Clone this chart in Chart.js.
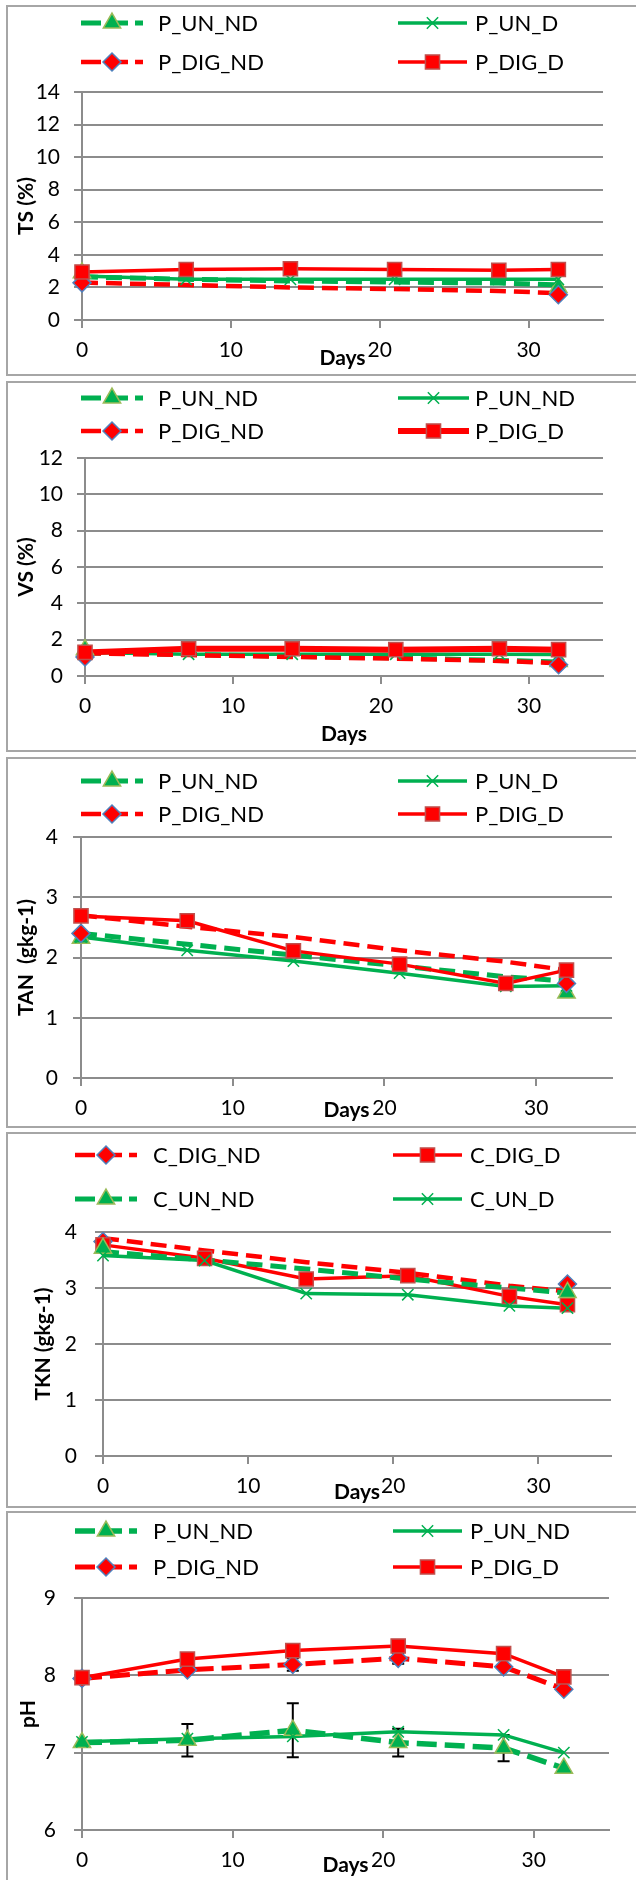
<!DOCTYPE html>
<html>
<head>
<meta charset="utf-8">
<script src="https://cdn.jsdelivr.net/npm/chart.js@4.4.1/dist/chart.umd.min.js"></script>
<style>
html,body{margin:0;padding:0;background:#fff;}
body{width:636px;height:1880px;position:relative;overflow:hidden;}
.panel{position:absolute;left:6px;width:640px;border:2px solid #a6a6a6;box-sizing:border-box;background:#fff;}
canvas{position:absolute;left:0;}
</style>
</head>
<body>
<div class="panel" style="top:5px;height:371px"></div>
<div class="panel" style="top:381px;height:371px"></div>
<div class="panel" style="top:757px;height:371px"></div>
<div class="panel" style="top:1132px;height:376px"></div>
<div class="panel" style="top:1511px;height:372px"></div>
<canvas id="c1"></canvas>
<canvas id="c2"></canvas>
<canvas id="c3"></canvas>
<canvas id="c4"></canvas>
<canvas id="c5"></canvas>
<script>
// ---------------- DATA ----------------
const days = [0, 7, 14, 21, 28, 32];
const xTickValues = [0, 10, 20, 30];

// Panel 1: TS (%)
const tsLabels = ['P_UN_ND', 'P_UN_D', 'P_DIG_ND', 'P_DIG_D'];
const tsYTicks = [0, 2, 4, 6, 8, 10, 12, 14];
const tsUnNd = [2.65, 2.5, 2.4, 2.33, 2.27, 2.15];
const tsUnNdMarks = [2.9, null, null, null, null, 2.0];
const tsUnD = [2.7, 2.5, 2.5, 2.5, 2.5, 2.5];
const tsDigNd = [2.3, 2.15, 2.0, 1.9, 1.78, 1.65];
const tsDigNdMarks = [2.28, null, null, null, null, 1.55];
const tsDigD = [2.95, 3.1, 3.15, 3.1, 3.05, 3.1];

// Panel 2: VS (%)
const vsLabels = ['P_UN_ND', 'P_UN_ND', 'P_DIG_ND', 'P_DIG_D'];
const vsYTicks = [0, 2, 4, 6, 8, 10, 12];
const vsUnNd = [1.27, 1.19, 1.08, 1.0, 0.86, 0.77];
const vsUnNdMarks = [1.45, null, null, null, null, 0.8];
const vsUnD = [1.3, 1.2, 1.2, 1.2, 1.2, 1.18];
const vsDigNd = [1.25, 1.15, 1.05, 0.95, 0.83, 0.7];
const vsDigNdMarks = [1.05, null, null, null, null, 0.62];
const vsDigD = [1.3, 1.5, 1.5, 1.45, 1.5, 1.45];

// Panel 3: TAN (gkg-1)
const tanLabels = ['P_UN_ND', 'P_UN_D', 'P_DIG_ND', 'P_DIG_D'];
const tanYTicks = [0, 1, 2, 3, 4];
const tanUnNd = [2.4, 2.22, 2.04, 1.86, 1.68, 1.61];
const tanUnNdMarks = [2.32, null, null, null, null, 1.41];
const tanUnD = [2.34, 2.12, 1.94, 1.74, 1.52, 1.53];
const tanDigNd = [2.7, 2.51, 2.34, 2.12, 1.93, 1.79];
const tanDigNdMarks = [2.4, null, null, null, null, 1.57];
const tanDigD = [2.69, 2.61, 2.11, 1.89, 1.57, 1.79];

// Panel 4: TKN (gkg-1)
const tknLabels = ['C_DIG_ND', 'C_DIG_D', 'C_UN_ND', 'C_UN_D'];
const tknYTicks = [0, 1, 2, 3, 4];
const tknDigNd = [3.89, 3.67, 3.46, 3.27, 3.04, 2.94];
const tknDigNdMarks = [3.83, null, null, null, null, 3.07];
const tknDigD = [3.77, 3.53, 3.16, 3.22, 2.85, 2.7];
const tknUnNd = [3.65, 3.5, 3.34, 3.16, 3.0, 2.91];
const tknUnNdMarks = [3.71, null, null, null, null, 2.92];
const tknUnD = [3.58, 3.49, 2.9, 2.88, 2.68, 2.64];

// Panel 5: pH
const phLabels = ['P_UN_ND', 'P_UN_ND', 'P_DIG_ND', 'P_DIG_D'];
const phYTicks = [6, 7, 8, 9];
const phUnNd = [7.13, 7.16, 7.29, 7.13, 7.06, 6.80];
const phUnNdErr = [0, 0.21, 0.35, 0.18, 0.17, 0];
const phUnD = [7.14, 7.18, 7.21, 7.27, 7.23, 7.0];
const phDigNd = [7.96, 8.07, 8.14, 8.22, 8.11, 7.82];
const phDigNdErr = [0, 0, 0.08, 0.07, 0, 0];
const phDigD = [7.97, 8.21, 8.32, 8.38, 8.28, 7.98];

// ---------------- STYLE ----------------
const GREEN = '#00B050', RED = '#FF0000', GRID = '#8c8c8c';
const STYLES = {
  unNd:  {color: GREEN, dash: [16, 8], width: 5, marker: 'triangle', fill: GREEN, stroke: '#9BBB59', r: 10, bw: 1.5},
  unD:   {color: GREEN, dash: [], width: 3.5, marker: 'crossRot', fill: GREEN, stroke: GREEN, r: 8, bw: 1.5},
  digNd: {color: RED, dash: [16, 8], width: 4.5, marker: 'rectRot', fill: RED, stroke: '#4F81BD', r: 9, bw: 1.5},
  digD:  {color: RED, dash: [], width: 3.5, marker: 'rect', fill: RED, stroke: '#C0504D', r: 10, bw: 1.5}
};
const TICK_FONT = 21, LEGEND_FONT = 22, TITLE_FONT = 21;
Chart.defaults.font.family = 'Lato';

const panels = [
  {id: 'c1', top0: 5, H: 371, L: 82, R: 603, T: 92, B: 320, legendY: [23, 62], cols: [[81, 143, 158], [398, 467, 475]],
   yTitle: 'TS (%)', yTitleX: 26, daysDy: 38, yTickPad: 14, yTicks: tsYTicks,
   series: [
     {label: tsLabels[0], style: 'unNd', line: tsUnNd, marks: tsUnNdMarks},
     {label: tsLabels[1], style: 'unD', line: tsUnD},
     {label: tsLabels[2], style: 'digNd', line: tsDigNd, marks: tsDigNdMarks},
     {label: tsLabels[3], style: 'digD', line: tsDigD}]},
  {id: 'c2', top0: 381, H: 371, L: 85, R: 603, T: 458, B: 676, legendY: [398, 431], cols: [[81, 143, 158], [398, 469, 475]],
   yTitle: 'VS (%)', yTitleX: 26, daysDy: 58, yTickPad: 14, yTicks: vsYTicks, widths: {digD: 6},
   series: [
     {label: vsLabels[0], style: 'unNd', line: vsUnNd, marks: vsUnNdMarks},
     {label: vsLabels[1], style: 'unD', line: vsUnD},
     {label: vsLabels[2], style: 'digNd', line: vsDigNd, marks: vsDigNdMarks},
     {label: vsLabels[3], style: 'digD', line: vsDigD}]},
  {id: 'c3', top0: 757, H: 371, L: 81, R: 612, T: 837, B: 1078, legendY: [781, 814], cols: [[81, 143, 158], [398, 467, 475]],
   yTitle: 'TAN  (gkg-1)', yTitleX: 26, daysDy: 32, yTickPad: 15, yTicks: tanYTicks,
   series: [
     {label: tanLabels[0], style: 'unNd', line: tanUnNd, marks: tanUnNdMarks},
     {label: tanLabels[1], style: 'unD', line: tanUnD},
     {label: tanLabels[2], style: 'digNd', line: tanDigNd, marks: tanDigNdMarks},
     {label: tanLabels[3], style: 'digD', line: tanDigD}]},
  {id: 'c4', top0: 1132, H: 376, L: 103, R: 611, T: 1232, B: 1456, legendY: [1155, 1199], cols: [[75, 137, 153], [393, 462, 470]],
   yTitle: 'TKN (gkg-1)', yTitleX: 43, daysDy: 36, yTickPad: 18, yTicks: tknYTicks,
   series: [
     {label: tknLabels[0], style: 'digNd', line: tknDigNd, marks: tknDigNdMarks},
     {label: tknLabels[1], style: 'digD', line: tknDigD},
     {label: tknLabels[2], style: 'unNd', line: tknUnNd, marks: tknUnNdMarks},
     {label: tknLabels[3], style: 'unD', line: tknUnD}]},
  {id: 'c5', top0: 1511, H: 369, L: 82, R: 609, T: 1598, B: 1830, legendY: [1531, 1567], cols: [[75, 137, 153], [393, 462, 470]],
   yTitle: 'pH', yTitleX: 28, daysDy: 35, yTickPad: 18, yTicks: phYTicks, dash: [20, 8], widths: {unNd: 5.5, digNd: 5},
   series: [
     {label: phLabels[0], style: 'unNd', line: phUnNd, err: phUnNdErr},
     {label: phLabels[1], style: 'unD', line: phUnD},
     {label: phLabels[2], style: 'digNd', line: phDigNd, err: phDigNdErr},
     {label: phLabels[3], style: 'digD', line: phDigD}]}
];

function pts(arr) {
  const out = [];
  arr.forEach((v, i) => { if (v !== null && v !== undefined) out.push({x: days[i], y: v}); });
  return out;
}

function setMarkerCtx(ctx, st) {
  ctx.fillStyle = st.fill; ctx.strokeStyle = st.stroke; ctx.lineWidth = st.bw; ctx.setLineDash([]);
}

const xlLegend = {
  id: 'xlLegend',
  afterDraw(chart, args, o) {
    const ctx = chart.ctx; const p = o.panel;
    ctx.save();
    p.series.forEach((s, i) => {
      const st = STYLES[s.style];
      const col = p.cols[i % 2];
      const y = p.legendY[Math.floor(i / 2)] - p.top0;
      const w = (p.widths && p.widths[s.style]) || st.width;
      ctx.strokeStyle = st.color; ctx.lineWidth = Math.max(w, 3.5);
      ctx.setLineDash(st.dash.length ? [20, 7] : []);
      ctx.beginPath(); ctx.moveTo(col[0], y); ctx.lineTo(col[1], y); ctx.stroke();
      setMarkerCtx(ctx, st);
      Chart.helpers.drawPoint(ctx, {pointStyle: st.marker, radius: st.r, borderWidth: st.bw, rotation: 0}, (col[0] + col[1]) / 2, y);
      ctx.fillStyle = '#000';
      ctx.font = LEGEND_FONT + 'px Lato';
      ctx.textAlign = 'left'; ctx.textBaseline = 'middle';
      ctx.fillText(s.label, col[2], y + 1);
    });
    ctx.restore();
  }
};

const axisTitles = {
  id: 'axisTitles',
  afterDraw(chart, args, o) {
    const ctx = chart.ctx; const p = o.panel; const ca = chart.chartArea;
    ctx.save();
    ctx.fillStyle = '#000';
    ctx.font = 'bold ' + TITLE_FONT + 'px Lato';
    ctx.textAlign = 'center'; ctx.textBaseline = 'middle';
    ctx.fillText('Days', (ca.left + ca.right) / 2, ca.bottom + p.daysDy);
    ctx.translate(p.yTitleX, (ca.top + ca.bottom) / 2);
    ctx.rotate(-Math.PI / 2);
    ctx.fillText(p.yTitle, 0, 0);
    ctx.restore();
  }
};

const errorBars = {
  id: 'errorBars',
  beforeDatasetsDraw(chart) {
    const ctx = chart.ctx; const xs = chart.scales.x, ys = chart.scales.y;
    ctx.save();
    ctx.strokeStyle = '#000'; ctx.lineWidth = 2; ctx.setLineDash([]);
    chart.data.datasets.forEach(ds => {
      if (!ds.errorBars) return;
      ds.errorBars.forEach(b => {
        if (!b.e) return;
        const x = xs.getPixelForValue(b.x);
        const y1 = ys.getPixelForValue(b.y + b.e), y2 = ys.getPixelForValue(b.y - b.e);
        ctx.beginPath();
        ctx.moveTo(x, y1); ctx.lineTo(x, y2);
        ctx.moveTo(x - 6, y1); ctx.lineTo(x + 6, y1);
        ctx.moveTo(x - 6, y2); ctx.lineTo(x + 6, y2);
        ctx.stroke();
      });
    });
    ctx.restore();
  }
};

function buildPanel(p) {
  const cv = document.getElementById(p.id);
  cv.width = 636; cv.height = p.H;
  cv.style.top = p.top0 + 'px';
  cv.style.width = '636px'; cv.style.height = p.H + 'px';
  const T = p.T - p.top0, B = p.B - p.top0;
  const lineSets = [], markSets = [];
  p.series.forEach(s => {
    const st = STYLES[s.style];
    const w = (p.widths && p.widths[s.style]) || st.width;
    const dash = st.dash.length ? (p.dash || st.dash) : [];
    lineSets.push({label: s.label, data: pts(s.line), borderColor: st.color, backgroundColor: st.color,
      borderWidth: w, borderDash: dash, pointRadius: 0, pointHoverRadius: 0, fill: false, tension: 0, clip: false});
    const mk = s.marks || s.line;
    markSets.push({label: s.label, data: pts(mk), showLine: false, pointStyle: st.marker, pointRadius: st.r,
      pointHoverRadius: st.r, pointBackgroundColor: st.fill, pointBorderColor: st.stroke, pointBorderWidth: st.bw,
      borderColor: st.stroke, backgroundColor: st.fill, clip: false,
      errorBars: s.err ? days.map((d, i) => ({x: d, y: mk[i], e: s.err[i]})) : null});
  });
  const datasets = markSets.slice().reverse().concat(lineSets.slice().reverse());
  new Chart(cv, {
    type: 'line',
    data: {datasets},
    options: {
      responsive: false, animation: false, devicePixelRatio: 1,
      events: [],
      layout: {padding: {left: 0, right: 636 - p.R, top: T, bottom: 0}},
      plugins: {legend: {display: false}, tooltip: {enabled: false},
        xlLegend: {panel: p}, axisTitles: {panel: p}},
      scales: {
        x: {type: 'linear', min: 0, max: 35,
          afterBuildTicks: sc => { sc.ticks = xTickValues.map(v => ({value: v})); },
          afterFit: sc => { sc.height = p.H - B; },
          grid: {drawOnChartArea: false, drawTicks: true, tickLength: 8, color: GRID, lineWidth: 2},
          border: {display: true, color: GRID, width: 2},
          ticks: {padding: 10, color: '#000', font: {size: TICK_FONT}, maxRotation: 0, autoSkip: false}},
        y: {type: 'linear', min: p.yTicks[0], max: p.yTicks[p.yTicks.length - 1],
          afterBuildTicks: sc => { sc.ticks = p.yTicks.map(v => ({value: v})); },
          afterFit: sc => { sc.width = p.L; },
          grid: {color: GRID, lineWidth: 2, tickLength: 8, drawTicks: true},
          border: {display: true, color: GRID, width: 2},
          ticks: {padding: p.yTickPad, color: '#000', font: {size: TICK_FONT}}}
      }
    },
    plugins: [errorBars, xlLegend, axisTitles]
  });
}

panels.forEach(buildPanel);
</script>
</body>
</html>
